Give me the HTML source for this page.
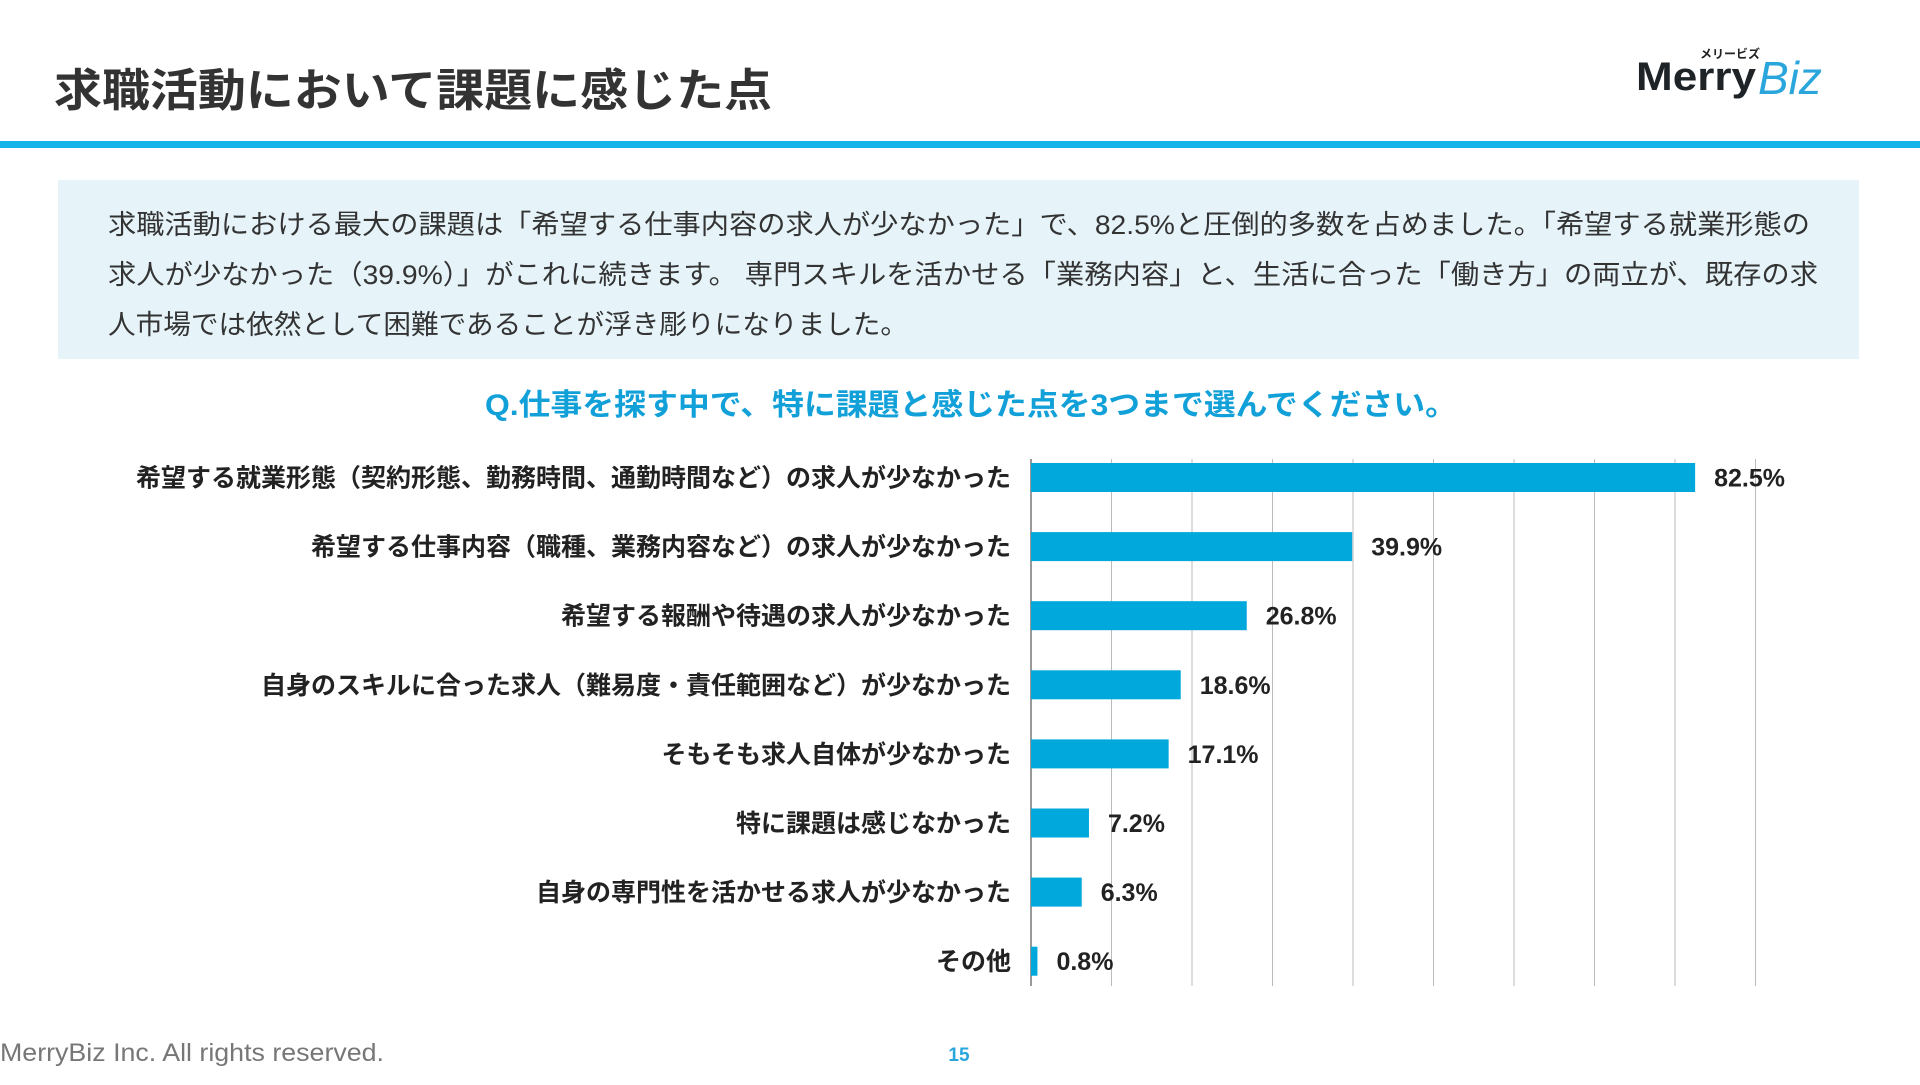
<!DOCTYPE html>
<html><head><meta charset="utf-8"><style>
body{margin:0;width:1920px;height:1080px;background:#fff;overflow:hidden;font-family:"Liberation Sans","Noto Sans CJK JP",sans-serif}
svg text{font-family:"Liberation Sans","Noto Sans CJK JP",sans-serif}
</style></head><body>
<svg id="page" width="1920" height="1080" viewBox="0 0 1920 1080">
<text x="54" y="106" font-size="45" font-weight="bold" fill="#333" textLength="718" lengthAdjust="spacingAndGlyphs">求職活動において課題に感じた点</text>
<g>
<text x="1700" y="58" font-size="12" font-weight="bold" fill="#222">メリービズ</text>
<text x="1636" y="90" font-size="40" font-weight="bold" fill="#1e2328" textLength="120" lengthAdjust="spacingAndGlyphs">Merry</text>
<text x="1758" y="94" font-size="46" font-style="italic" font-family="Liberation Serif, serif" fill="#2aa6dc">Biz</text>
</g>
<rect x="0" y="141" width="1920" height="7" fill="#15b5ea"/>
<rect x="58" y="180" width="1801" height="179" fill="#e6f4fa"/>
<g font-size="27" fill="#333">
<text x="108" y="234" textLength="1702" lengthAdjust="spacingAndGlyphs">求職活動における最大の課題は「希望する仕事内容の求人が少なかった」で、82.5%と圧倒的多数を占めました。「希望する就業形態の</text>
<text x="108" y="284" textLength="1710" lengthAdjust="spacingAndGlyphs">求人が少なかった（39.9%）」がこれに続きます。 専門スキルを活かせる「業務内容」と、生活に合った「働き方」の両立が、既存の求</text>
<text x="108" y="334" textLength="800" lengthAdjust="spacingAndGlyphs">人市場では依然として困難であることが浮き彫りになりました。</text>
</g>
<text x="485" y="415" font-size="30" font-weight="bold" fill="#12a0d8" textLength="972" lengthAdjust="spacingAndGlyphs">Q.仕事を探す中で、特に課題と感じた点を3つまで選んでください。</text>
<g id="chart"></g>
<text x="0" y="1061" font-size="25" fill="#777" textLength="384" lengthAdjust="spacingAndGlyphs">MerryBiz Inc. All rights reserved.</text>
<text x="959" y="1061" font-size="19" font-weight="bold" fill="#2aa6dc" text-anchor="middle">15</text>
</svg>
<script>
const categories=["希望する就業形態（契約形態、勤務時間、通勤時間など）の求人が少なかった","希望する仕事内容（職種、業務内容など）の求人が少なかった","希望する報酬や待遇の求人が少なかった","自身のスキルに合った求人（難易度・責任範囲など）が少なかった","そもそも求人自体が少なかった","特に課題は感じなかった","自身の専門性を活かせる求人が少なかった","その他"];
const values=[82.5,39.9,26.8,18.6,17.1,7.2,6.3,0.8];
const valueLabels=["82.5%","39.9%","26.8%","18.6%","17.1%","7.2%","6.3%","0.8%"];
const gridTicks=[0,10,20,30,40,50,60,70,80,90];
const NS="http://www.w3.org/2000/svg";
const g=document.getElementById('chart');
const x0=1031,pxPer=8.05,top0=459,bottom0=986,firstC=477.5,rowH=69.1,barH=29;
const xs=v=>x0+v*pxPer;
const yc=i=>firstC+rowH*i;
function mk(t,a){const e=document.createElementNS(NS,t);for(const k in a)e.setAttribute(k,a[k]);g.appendChild(e);return e;}
gridTicks.forEach((t,i)=>{const l=mk('line',{x1:xs(t),x2:xs(t),y1:top0,y2:bottom0,stroke:i?'#bbb':'#999','stroke-width':i?1:2});

});
categories.forEach((c,i)=>{
 const lab=mk('text',{x:1011,y:yc(i)+9,'font-size':25,'font-weight':'bold',fill:'#222','text-anchor':'end'});lab.textContent=c;
 
 
 const b=mk('rect',{x:x0,y:yc(i)-barH/2,width:Math.max(values[i]*pxPer,2),height:barH,fill:'#00a8dc'});
 
 
 const v=mk('text',{x:xs(values[i])+19,y:yc(i)+9,'font-size':25,'font-weight':'bold',fill:'#222'});v.textContent=valueLabels[i];
 
 
});
</script>
</body></html>
